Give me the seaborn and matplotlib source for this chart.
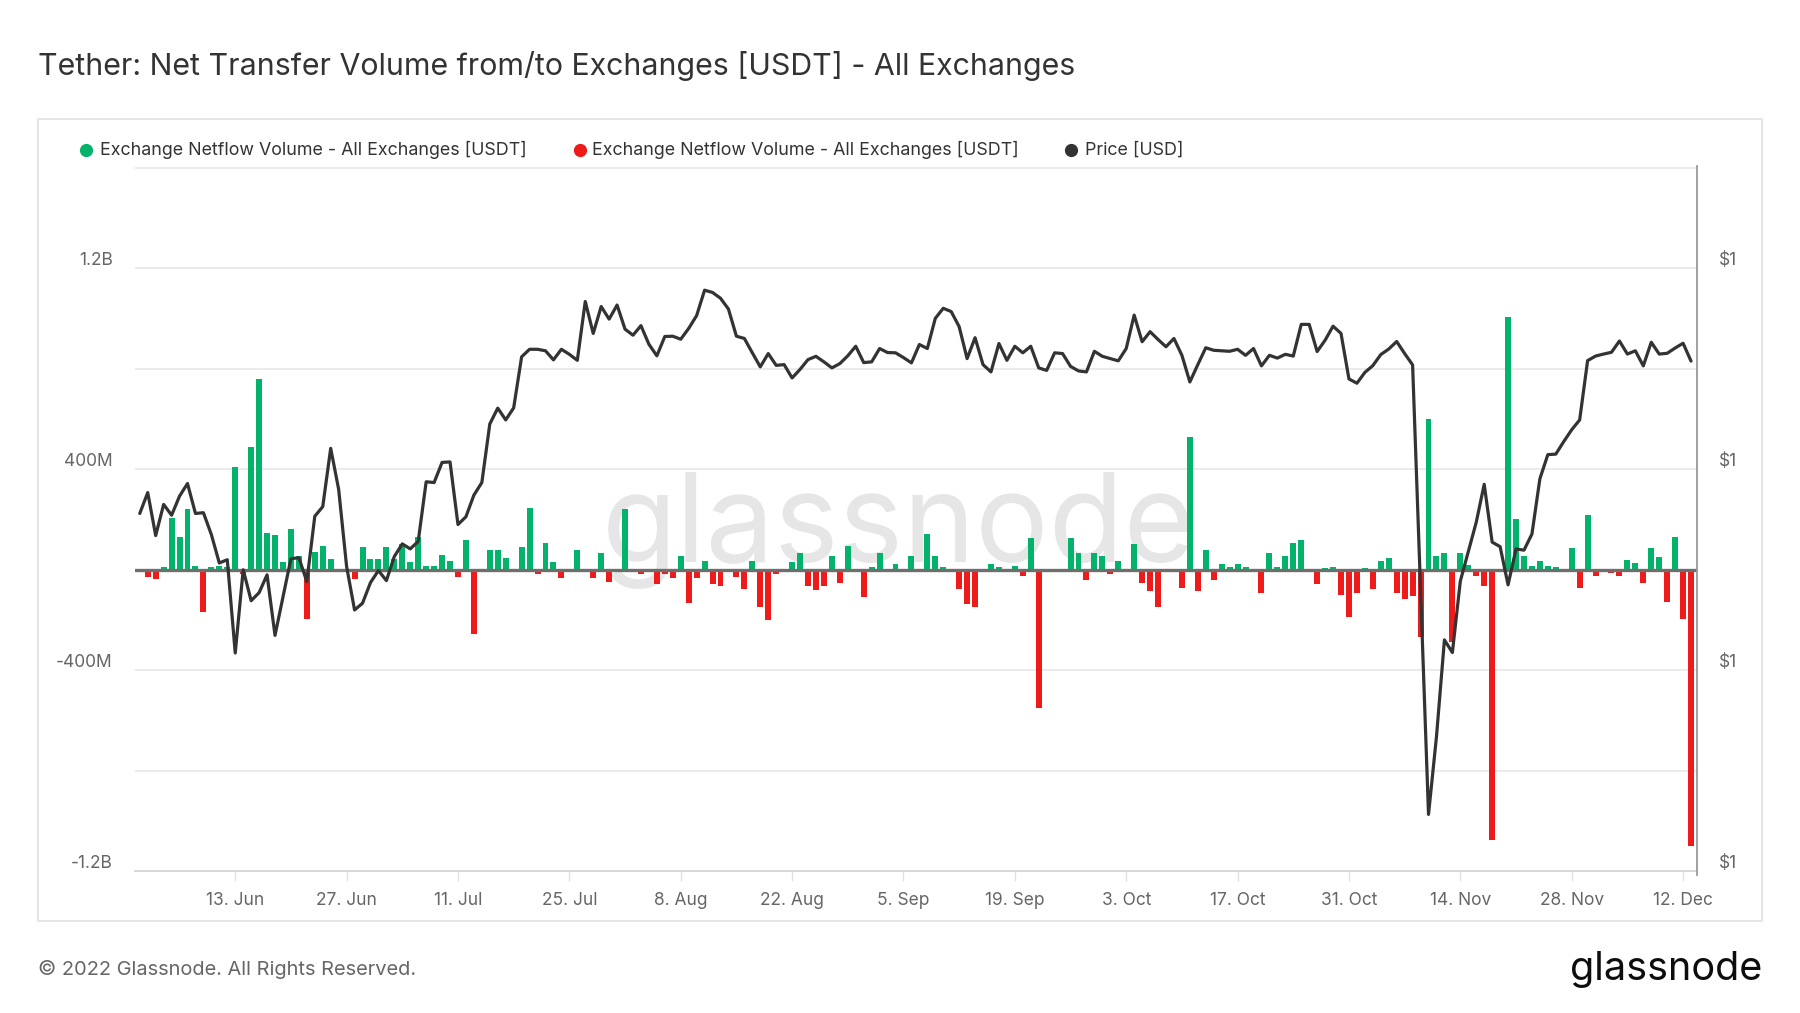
import numpy as np
import pandas as pd
import matplotlib
matplotlib.use("Agg")
import matplotlib.pyplot as plt
import matplotlib.dates as mdates
import matplotlib.transforms as mtransforms
from matplotlib.lines import Line2D
from matplotlib.patches import Rectangle
from matplotlib.transforms import ScaledTranslation
import seaborn as sns

# ---------------- data ----------------
start_date = "2022-06-01"

# daily exchange netflow, millions of USDT (June 1 .. Dec 13, 2022)
netflow_musdt = [
    2, -29, -36, 12, 204, 132, 240, 17, -167, 12,
    17, 12, 409, -15, 487, 757, 145, 140, 31, 163,
    53, -197, 72, 96, 43, -8, -8, -36, 91, 43,
    43, 91, 43, 103, 31, 132, 17, 17, 60, 36,
    -27, 120, -257, -8, 77, 77, 47, 2, 91, 247,
    -16, 107, 29, -33, 0, 77, -5, -33, 67, -47,
    3, 240, -7, -17, 3, -57, -16, -33, 56, -131,
    -33, 36, -57, -64, 3, -27, -76, 36, -147, -200,
    -16, 4, 29, 67, -64, -80, -64, 53, -51, 96,
    -8, -107, 11, 67, 4, 23, 0, 53, 3, 144,
    53, 11, -7, -76, -137, -147, 4, 23, 11, 0,
    17, -23, 127, -551, 0, 0, -7, 127, 67, -40,
    67, 56, -16, 36, -7, 103, -53, -83, -149, 3,
    3, -71, 527, -83, 77, -40, 24, 11, 24, 11,
    2, -94, 65, 12, 53, 106, 118, 2, -57, 6,
    12, -100, -189, -94, 6, -75, 35, 47, -94, -118,
    -106, -269, 599, 53, 65, -287, 65, 18, -23, -66,
    -1075, -6, 1005, 200, 55, 15, 33, 15, 11, -5,
    86, -71, 218, -24, 4, -13, -24, 39, 27, -52,
    86, 50, -130, 129, -196, -1100,
]

# USDT price, USD
price_usd = [
    1.000224, 1.000307, 1.000136, 1.000260, 1.000217, 1.000293, 1.000343, 1.000224, 1.000227, 1.000140,
    1.000027, 1.000040, 0.999669, 1.000000, 0.999877, 0.999909, 0.999980, 0.999739, 0.999891, 1.000044,
    1.000048, 0.999953, 1.000213, 1.000251, 1.000483, 1.000320, 1.000013, 0.999840, 0.999867, 0.999949,
    0.999997, 0.999957, 1.000053, 1.000103, 1.000083, 1.000113, 1.000350, 1.000347, 1.000427, 1.000429,
    1.000180, 1.000211, 1.000297, 1.000347, 1.000580, 1.000643, 1.000596, 1.000644, 1.000847, 1.000877,
    1.000877, 1.000871, 1.000835, 1.000877, 1.000857, 1.000833, 1.001067, 1.000940, 1.001047, 1.000997,
    1.001053, 1.000957, 1.000933, 1.000971, 1.000897, 1.000851, 1.000928, 1.000929, 1.000917, 1.000960,
    1.001011, 1.001112, 1.001103, 1.001080, 1.001037, 1.000929, 1.000920, 1.000863, 1.000807, 1.000860,
    1.000813, 1.000816, 1.000763, 1.000797, 1.000836, 1.000849, 1.000827, 1.000803, 1.000820, 1.000851,
    1.000889, 1.000824, 1.000827, 1.000880, 1.000864, 1.000863, 1.000844, 1.000823, 1.000896, 1.000880,
    1.001000, 1.001040, 1.001027, 1.000967, 1.000840, 1.000923, 1.000816, 1.000787, 1.000900, 1.000833,
    1.000889, 1.000863, 1.000889, 1.000803, 1.000793, 1.000863, 1.000860, 1.000809, 1.000791, 1.000787,
    1.000869, 1.000849, 1.000840, 1.000831, 1.000880, 1.001013, 1.000907, 1.000947, 1.000916, 1.000887,
    1.000920, 1.000853, 1.000747, 1.000816, 1.000883, 1.000873, 1.000871, 1.000869, 1.000877, 1.000853,
    1.000880, 1.000811, 1.000853, 1.000842, 1.000857, 1.000850, 1.000976, 1.000976, 1.000868, 1.000913,
    1.000969, 1.000940, 1.000759, 1.000742, 1.000785, 1.000812, 1.000856, 1.000878, 1.000908, 1.000860,
    1.000815, 0.999921, 0.999027, 0.999336, 0.999721, 0.999671, 0.999955, 1.000072, 1.000189, 1.000340,
    1.000110, 1.000092, 0.999940, 1.000083, 1.000078, 1.000142, 1.000362, 1.000458, 1.000460, 1.000510,
    1.000557, 1.000596, 1.000832, 1.000850, 1.000858, 1.000865, 1.000910, 1.000858, 1.000871, 1.000811,
    1.000905, 1.000858, 1.000861, 1.000882, 1.000901, 1.000830,
]

tick_dates = ["2022-06-13", "2022-06-27", "2022-07-11", "2022-07-25", "2022-08-08",
              "2022-08-22", "2022-09-05", "2022-09-19", "2022-10-03", "2022-10-17",
              "2022-10-31", "2022-11-14", "2022-11-28", "2022-12-12"]
tick_labels = ["13. Jun", "27. Jun", "11. Jul", "25. Jul", "8. Aug", "22. Aug", "5. Sep",
               "19. Sep", "3. Oct", "17. Oct", "31. Oct", "14. Nov", "28. Nov", "12. Dec"]

left_ticks = [-1200, -800, -400, 0, 400, 800, 1200, 1600]
left_tick_labels = ["-1.2B", "", "-400M", "", "400M", "", "1.2B", ""]
price_ticks = [0.9988, 0.9996, 1.0004, 1.0012]
price_tick_labels = ["$1", "$1", "$1", "$1"]

title = "Tether: Net Transfer Volume from/to Exchanges [USDT] - All Exchanges"
legend_labels = ["Exchange Netflow Volume - All Exchanges [USDT]",
                 "Exchange Netflow Volume - All Exchanges [USDT]",
                 "Price [USD]"]

GREEN = "#03b36b"
RED = "#ef1a1a"
PRICE_C = "#333333"

# ---------------- frame ----------------
dates = pd.date_range(start_date, periods=len(netflow_musdt), freq="D")
df = pd.DataFrame({
    "x": mdates.date2num(dates),
    "netflow": netflow_musdt,
    "price": price_usd,
})
df["sign"] = np.where(df["netflow"] >= 0, "in", "out")

sns.set_theme(style="white")
plt.rcParams["font.family"] = ["Inter", "DejaVu Sans"]

W, H = 1800, 1013
fig = plt.figure(figsize=(18, 10.13), dpi=100)
fig.patch.set_facecolor("white")

def fx(px):
    return px / W

def fy(py):
    return 1 - py / H

ax_l, ax_r, ax_t, ax_b = 135, 1697, 166, 875
ax = fig.add_axes([fx(ax_l), fy(ax_b), fx(ax_r - ax_l), (ax_b - ax_t) / H])

# watermark
ax.text(0.489, 30, "glassnode",
        transform=mtransforms.blended_transform_factory(ax.transAxes, ax.transData),
        ha="center", va="baseline", fontsize=88, color="#e6e6e6", zorder=0)

sns.barplot(data=df, x="x", y="netflow", hue="sign",
            palette={"in": GREEN, "out": RED}, native_scale=True, dodge=False,
            width=0.75, saturation=1, linewidth=0, errorbar=None, legend=False,
            ax=ax, zorder=2)

ymin, ymax = -1214, 1606
ax.set_ylim(ymin, ymax)
ax.axhline(0, color="#6e6e6e", lw=2.4, zorder=3)

x0 = df["x"].iloc[0] - 0.6
x1 = df["x"].iloc[-1] + 0.75
ax.set_xlim(x0, x1)

ax.set_yticks(left_ticks)
ax.set_yticklabels(left_tick_labels)
ax.yaxis.grid(True, color="#e6e6e6", lw=1.1)
ax.xaxis.grid(False)
ax.set_axisbelow(True)
ax.tick_params(axis="y", length=0, pad=16, labelsize=12.5, labelcolor="#666666")
for lab in ax.get_yticklabels():
    lab.set_transform(lab.get_transform() + ScaledTranslation(0, 10 / 100, fig.dpi_scale_trans))

ax.set_xticks(mdates.date2num(pd.to_datetime(tick_dates)))
ax.set_xticklabels(tick_labels)
ax.tick_params(axis="x", length=7, width=1, color="#e2e2e2", pad=7.5,
               labelsize=12.5, labelcolor="#666666", bottom=True)
ax.set_xlabel("")
ax.set_ylabel("")
for s in ["left", "top", "right"]:
    ax.spines[s].set_visible(False)
ax.spines["bottom"].set_color("#d4d4d4")
ax.spines["bottom"].set_linewidth(1.2)
ax.spines["bottom"].set_position(("data", -1200))

# price axis
ax2 = ax.twinx()
sns.lineplot(data=df, x="x", y="price", color=PRICE_C, lw=2.3, estimator=None,
             errorbar=None, ax=ax2, zorder=4)
ax2.set_ylim(1 + ymin * 1e-6, 1 + ymax * 1e-6)
ax2.set_xlim(x0, x1)
ax2.set_yticks(price_ticks)
ax2.set_yticklabels(price_tick_labels)
ax2.tick_params(axis="y", length=0, pad=16, labelsize=12.5, labelcolor="#666666")
for lab in ax2.get_yticklabels():
    lab.set_transform(lab.get_transform() + ScaledTranslation(0, 10 / 100, fig.dpi_scale_trans))
ax2.set_ylabel("")
ax2.set_xlabel("")
ax2.grid(False)
for s in ["left", "top", "bottom"]:
    ax2.spines[s].set_visible(False)
ax2.spines["right"].set_color("#9a9a9a")
ax2.spines["right"].set_linewidth(1.3)

# chart frame
fig.add_artist(Rectangle((fx(38), fy(921)), fx(1762 - 38), (921 - 119) / H,
                         transform=fig.transFigure, fill=False, ec="#e3e3e3", lw=1.3))

# title
fig.text(fx(38), fy(66), title, fontsize=21.85, color="#333333", va="center", ha="left")

# legend
leg_y = fy(150)
for (dot_x, txt_x, col, lab) in [(86, 100, GREEN, legend_labels[0]),
                                 (580, 592, RED, legend_labels[1]),
                                 (1071, 1085, PRICE_C, legend_labels[2])]:
    fig.add_artist(Line2D([fx(dot_x)], [leg_y], marker="o", markersize=8.5,
                          color=col, lw=0, transform=fig.transFigure))
    fig.text(fx(txt_x), leg_y, lab, fontsize=12.85, color="#333333", va="center", ha="left")

# footer
fig.text(fx(38), fy(969), "\u00a9 2022 Glassnode. All Rights Reserved.", fontsize=14.4,
         color="#666666", va="center", ha="left")
fig.text(fx(1762), fy(970), "glassnode", fontsize=28.5, color="#0d0d0d", va="center",
         ha="right")

fig.savefig("out.png", dpi=100, facecolor="white")
